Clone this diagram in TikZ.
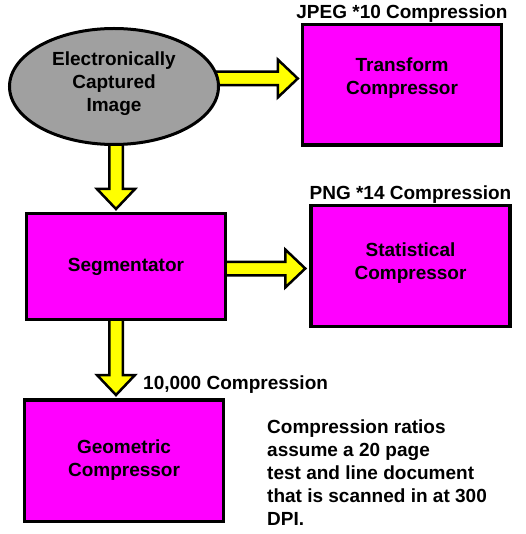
\documentclass[tikz,border=0pt]{standalone}
\usepackage{fontspec}
\setmainfont{Liberation Sans}
\usetikzlibrary{shapes.geometric,calc,positioning,backgrounds}
\definecolor{stagefill}{HTML}{FF00FF}
\definecolor{sourcefill}{HTML}{A0A0A0}
\definecolor{arrowfill}{HTML}{FFFF00}

\begin{document}
\begin{tikzpicture}[x=1pt, y=-1pt,
        font=\fontsize{19}{23}\selectfont\bfseries,
        source/.style={draw, ellipse, line width=3pt, fill=sourcefill, align=center, minimum width=209pt, minimum height=116pt, inner sep=0pt},
        stage/.style={draw, line width=3.5pt, fill=stagefill, align=center, minimum width=199pt, inner sep=0pt},
        ratio/.style={inner sep=0pt},
        note/.style={align=left, inner sep=0pt},
        fatarrow/.style={draw, line width=2.5pt, fill=arrowfill, miter limit=10,
            to path={let \p1=(\tikztostart), \p2=(\tikztotarget),
                \n1={atan2(\y2-\y1,\x2-\x1)}, \n2={veclen(\x2-\x1,\y2-\y1)} in
                {[shift={(\p1)}, rotate=\n1]
                (0,-6.75) -- (\n2-20,-6.75) -- (\n2-20,-19) -- (\n2,0) -- (\n2-20,19) -- (\n2-20,6.75) -- (0,6.75) -- cycle}}}]
    \useasboundingbox (0,0) rectangle (525,534);
    \node[source, text depth=10pt] (img) at (114,86.5) {Electronically\\Captured\\Image};
    \node[stage, minimum height=120.5pt, text depth=18pt] (trans) at (402,85) {Transform\\Compressor};
    \node[stage, minimum height=105.5pt] (seg) at (126,266.5) {Segmentator};
    \node[stage, minimum height=120.5pt, text depth=10pt] (stat) at (410.5,266) {Statistical\\Compressor};
    \node[stage, minimum height=121.5pt] (geo) at (124,460.5) {Geometric\\Compressor};
    \node[ratio, above=0pt of trans] (jpeg) {JPEG *10 Compression};
    \node[ratio, above=0pt of stat] (png) {PNG *14 Compression};
    \node[ratio, anchor=base west] (georatio) at (143,389) {10,000 Compression};
    \node[note, anchor=north west] (note) at (267,420) {Compression ratios\\assume a 20 page\\test and line document\\that is scanned in at 300\\DPI.};
    \begin{scope}[on background layer]
        \draw[fatarrow] ($(img.east)+(-12,-8)$) to ($(img.east -| trans.west)+(-3,-8)$);
        \draw[fatarrow] ($(seg.east)+(-5,2)$) to ($(seg.east -| stat.west)+(-4,2)$);
        \draw[fatarrow] ($(img.south)+(2,-10)$) to ($(img.south |- seg.north)+(2,-3)$);
        \draw[fatarrow] ($(seg.south)+(-10,-5)$) to ($(seg.south |- geo.north)+(-10,-3)$);
    \end{scope}
\end{tikzpicture}
\end{document}
